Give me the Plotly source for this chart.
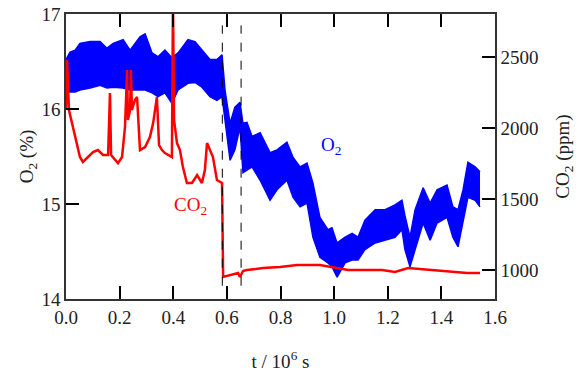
import plotly.graph_objects as go

# ---- O2 band (upper / lower envelope of the fast oscillation), t in 1e6 s, O2 in %
o2_t = [0.000, 0.015, 0.034, 0.052, 0.090, 0.127, 0.153, 0.176, 0.213, 0.239,
        0.276, 0.295, 0.321, 0.343, 0.369, 0.395, 0.418, 0.455, 0.481, 0.507,
        0.537, 0.563, 0.582, 0.593, 0.600, 0.612, 0.630, 0.649, 0.660, 0.675,
        0.694, 0.724, 0.761, 0.787, 0.824, 0.847, 0.873, 0.899, 0.921, 0.947,
        0.977, 0.992, 1.011, 1.041, 1.067, 1.089, 1.115, 1.153, 1.190, 1.227,
        1.253, 1.264, 1.283, 1.302, 1.332, 1.358, 1.384, 1.421, 1.443, 1.462,
        1.481, 1.499, 1.526, 1.544]
o2_upper = [16.52, 16.60, 16.62, 16.69, 16.71, 16.71, 16.64, 16.69, 16.73, 16.62,
            16.76, 16.79, 16.59, 16.55, 16.62, 16.54, 16.59, 16.73, 16.71, 16.62,
            16.52, 16.52, 16.57, 16.20, 16.06, 15.85, 16.02, 16.07, 15.85, 15.86,
            15.71, 15.75, 15.54, 15.57, 15.65, 15.49, 15.39, 15.43, 15.22, 14.86,
            14.73, 14.75, 14.59, 14.65, 14.69, 14.65, 14.83, 14.94, 14.94, 14.99,
            15.04, 14.88, 14.65, 14.94, 15.17, 15.01, 15.15, 15.20, 14.97, 14.94,
            15.15, 15.44, 15.39, 15.34]
o2_lower = [16.20, 16.18, 16.18, 16.20, 16.22, 16.25, 16.22, 16.23, 16.22, 16.20,
            16.20, 16.20, 16.17, 16.13, 16.17, 16.06, 16.20, 16.27, 16.28, 16.23,
            16.13, 16.09, 16.13, 15.88, 15.78, 15.46, 15.57, 15.81, 15.33, 15.36,
            15.39, 15.25, 15.04, 15.15, 15.25, 15.07, 14.97, 15.01, 14.65, 14.44,
            14.38, 14.34, 14.23, 14.38, 14.41, 14.41, 14.52, 14.59, 14.62, 14.65,
            14.73, 14.52, 14.34, 14.52, 14.80, 14.62, 14.80, 14.86, 14.65, 14.55,
            14.80, 15.07, 15.04, 14.97]

# ---- CO2 (ppm)
co2_t = [0.000, 0.004, 0.011, 0.026, 0.041, 0.052, 0.063, 0.082, 0.101, 0.119,
         0.138, 0.157, 0.164, 0.168, 0.175, 0.194, 0.209, 0.220, 0.228, 0.231,
         0.239, 0.242, 0.246, 0.257, 0.265, 0.276, 0.295, 0.313, 0.325, 0.332,
         0.339, 0.347, 0.358, 0.369, 0.395, 0.399, 0.403, 0.414, 0.425, 0.436,
         0.451, 0.470, 0.489, 0.507, 0.518, 0.526, 0.537, 0.548, 0.563, 0.582,
         0.586, 0.619, 0.642, 0.649, 0.660, 0.675, 0.735, 0.798, 0.862, 0.947,
         1.052, 1.179, 1.227, 1.276, 1.369, 1.496, 1.544]
co2_ppm = [2127, 2479, 2127, 2007, 1894, 1796, 1761, 1796, 1831, 1845,
           1810, 1810, 2246, 1810, 1796, 1753, 1796, 2007, 2408, 2056,
           2127, 2408, 2127, 2197, 2218, 1845, 1866, 1937, 2035, 2127,
           2218, 1880, 1845, 1824, 1796, 2900, 2056, 1894, 1845, 1725,
           1613, 1613, 1669, 1613, 1704, 1894, 1845, 1796, 1634, 1613,
           951, 965, 979, 951, 993, 1000, 1014, 1021, 1035, 1035,
           1000, 1000, 986, 1014, 1000, 979, 979]

event_t = [0.583, 0.653]
event_o2_span = [14.14, 16.88]

x_ticks = [0.0, 0.2, 0.4, 0.6, 0.8, 1.0, 1.2, 1.4, 1.6]
x_ticktext = ["0.0", "0.2", "0.4", "0.6", "0.8", "1.0", "1.2", "1.4", "1.6"]
o2_ticks = [14, 15, 16, 17]
co2_ticks = [1000, 1500, 2000, 2500]

FONT = "Liberation Serif"
TXT = dict(family=FONT, size=19, color="#222222")
AX = "black"

fig = go.Figure()
fig.add_trace(go.Scatter(x=o2_t, y=o2_lower, mode="lines",
                         line=dict(color="#0000ff", width=1.5), showlegend=False))
fig.add_trace(go.Scatter(x=o2_t, y=o2_upper, mode="lines", fill="tonexty",
                         fillcolor="#0000ff",
                         line=dict(color="#0000ff", width=1.5), showlegend=False))
fig.add_trace(go.Scatter(x=co2_t, y=co2_ppm, mode="lines", yaxis="y2",
                         line=dict(color="#ff0000", width=2.5), showlegend=False))

for t in event_t:
    fig.add_shape(type="line", xref="x", yref="y", x0=t, x1=t,
                  y0=event_o2_span[0], y1=event_o2_span[1],
                  line=dict(color="black", width=1, dash="dash"))

fig.add_annotation(x=0.988, y=15.61, xref="x", yref="y", text="O<sub>2</sub>",
                   showarrow=False, font=dict(family=FONT, size=19, color="#0000ff"))
fig.add_annotation(x=0.463, y=14.98, xref="x", yref="y", text="CO<sub>2</sub>",
                   showarrow=False, font=dict(family=FONT, size=19, color="#ff0000"))

fig.update_layout(
    width=588, height=376,
    margin=dict(l=66, r=93, t=14, b=77),
    paper_bgcolor="white", plot_bgcolor="white",
    xaxis=dict(range=[0, 1.6], tickmode="array", tickvals=x_ticks, ticktext=x_ticktext,
               ticks="inside", ticklen=13, tickwidth=2, tickcolor=AX, mirror="ticks",
               showline=True, linecolor="#333", linewidth=1.5,
               showgrid=False, zeroline=False, automargin=False, tickfont=TXT,
               title=dict(text="t / 10<sup>6</sup> s", standoff=28, font=TXT)),
    yaxis=dict(range=[14, 17], tickmode="array", tickvals=o2_ticks,
               ticks="inside", ticklen=13, tickwidth=2, tickcolor=AX,
               showline=True, linecolor="#333", linewidth=1.5,
               showgrid=False, zeroline=False, automargin=False, tickfont=TXT,
               title=dict(text="O<sub>2</sub> (%)", standoff=3, font=TXT)),
    yaxis2=dict(range=[796, 2803], tickmode="array", tickvals=co2_ticks,
                overlaying="y", side="right",
                ticks="inside", ticklen=13, tickwidth=2, tickcolor=AX,
                showline=True, linecolor="#333", linewidth=1.5,
                showgrid=False, zeroline=False, automargin=False, tickfont=TXT,
                title=dict(text="CO<sub>2</sub> (ppm)", standoff=18, font=TXT)),
)

fig.write_html("out.html")
